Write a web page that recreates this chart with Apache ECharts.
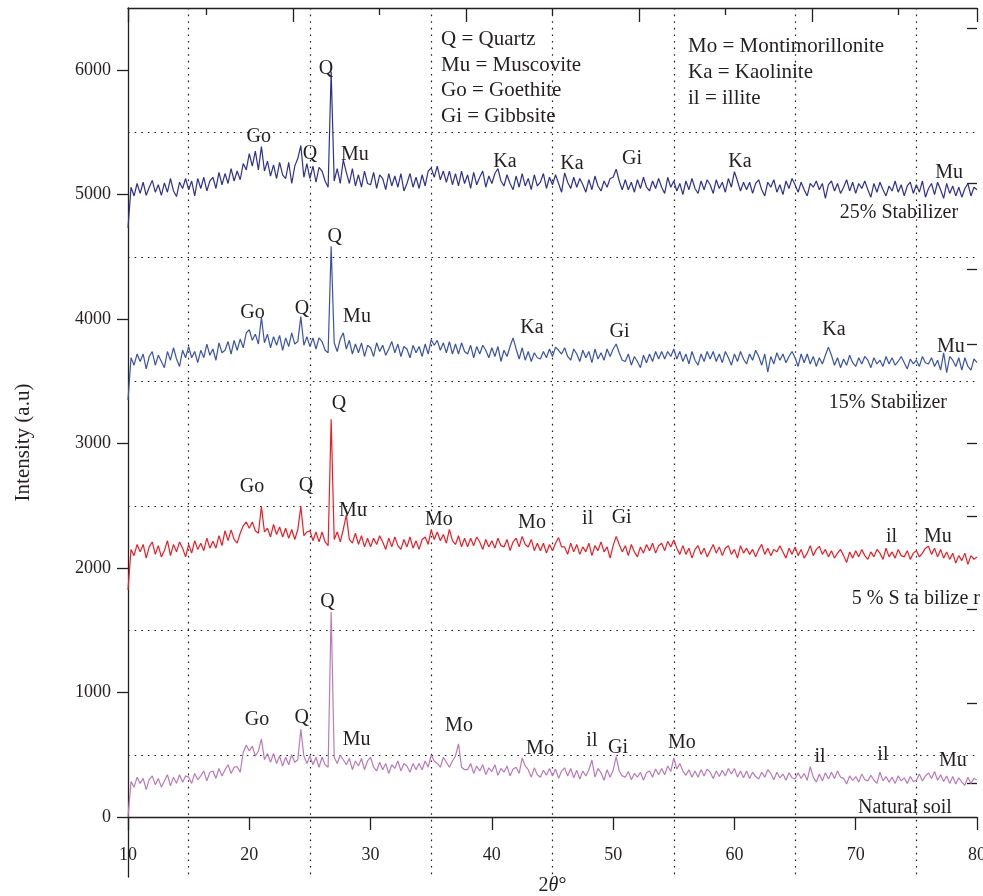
<!DOCTYPE html>
<html>
<head>
<meta charset="utf-8">
<script src="https://cdn.jsdelivr.net/npm/echarts@6/dist/echarts.min.js"></script>
<style>
  html, body { margin: 0; padding: 0; background: #ffffff; }
  #chart { width: 983px; height: 896px; }
</style>
</head>
<body>
<div id="chart"></div>
<script>
// 2θ scan starts at 10° with a 0.25° step
const startAngle = 10;
const angleStep = 0.25;
const xTicks = [10, 20, 30, 40, 50, 60, 70, 80];

const stabilizer25 = [
  4735, 5060, 4990, 5090, 5010, 5100, 4995, 5060, 5115, 5020, 5080, 4995,
  5095, 5020, 5130, 5030, 4985, 5100, 5050, 5130, 5040, 5110, 4990, 5130,
  5050, 5140, 5030, 5110, 5140, 5050, 5180, 5080, 5170, 5090, 5210, 5110,
  5190, 5120, 5250, 5200, 5330, 5230, 5350, 5200, 5386, 5190, 5270, 5150,
  5240, 5130, 5260, 5160, 5130, 5260, 5090, 5230, 5290, 5394, 5140, 5250,
  5130, 5230, 5100, 5220, 5190, 5110, 5060, 5990, 5110, 5210, 5090, 5280,
  5180, 5090, 5210, 5070, 5160, 5060, 5190, 5090, 5080, 5180, 5050, 5160,
  5130, 5040, 5170, 5070, 5150, 5060, 5170, 5030, 5090, 5170, 5060, 5140,
  5050, 5160, 5070, 5190, 5215, 5140, 5230, 5120, 5190, 5100, 5190, 5080,
  5170, 5070, 5190, 5090, 5160, 5050, 5180, 5080, 5140, 5190, 5060, 5150,
  5090, 5170, 5210, 5110, 5070, 5160, 5090, 5040, 5150, 5060, 5170, 5070,
  5130, 5040, 5160, 5070, 5100, 5170, 5050, 5140, 5080, 5160, 5090, 5020,
  5175, 5100, 5050, 5140, 5060, 5130, 5080, 5020, 5120, 5040, 5150, 5070,
  5030, 5110, 5060, 5130, 5140, 5205, 5110, 5040, 5120, 5040, 5100, 5020,
  5120, 5050, 5140, 5060, 5030, 5110, 5050, 5130, 5060, 5010, 5140, 5060,
  5110, 5030, 5090, 5000, 5110, 5040, 5130, 5050, 5010, 5110, 5040, 5120,
  5080, 5010, 5120, 5050, 5100, 5020, 5130, 5060, 5185, 5110, 5030, 5100,
  5040, 5100, 5010, 5090, 5120, 5040, 4990, 5100, 5060, 5120, 5020, 5080,
  5000, 5110, 5050, 5130, 5080, 5020, 5100, 5040, 4990, 5090, 5060, 5110,
  5040, 5090, 4970, 5080, 5110, 5030, 5090, 5010, 5060, 5120, 5030, 5100,
  5010, 5090, 5050, 5110, 5040, 4980, 5090, 5020, 5100, 5040, 4990, 5070,
  5030, 5110, 5020, 5080, 4990, 5070, 5100, 5010, 5080, 5020, 5110, 4980,
  5050, 5090, 5000, 5100, 5040, 4970, 5090, 5010, 5070, 4990, 5060, 4980,
  5050, 5090, 4990, 5060, 5040
];

const stabilizer15 = [
  3350, 3690, 3630, 3720, 3660, 3720, 3600, 3700, 3740, 3630, 3710, 3660,
  3610, 3740, 3670, 3770, 3680, 3620, 3750, 3690, 3780, 3690, 3740, 3650,
  3750, 3690, 3800, 3710, 3760, 3670, 3810, 3730, 3750, 3820, 3720, 3830,
  3750, 3840, 3770, 3890, 3915, 3830, 3880, 3800, 4014, 3810, 3880, 3770,
  3860, 3790, 3870, 3750, 3850, 3780, 3890, 3800, 3820, 4020, 3790, 3860,
  3780, 3850, 3760, 3850, 3820, 3750, 3730, 4585, 3810, 3740, 3840, 3890,
  3760, 3830, 3720, 3800, 3730, 3810, 3700, 3790, 3770, 3700, 3810, 3740,
  3790, 3710, 3760, 3820, 3730, 3800, 3700, 3780, 3760, 3690, 3790, 3730,
  3780, 3700, 3800, 3720, 3835, 3790, 3830, 3750, 3810, 3730, 3820, 3720,
  3800, 3720, 3810, 3740, 3720, 3790, 3690, 3780, 3720, 3790, 3750, 3690,
  3770, 3700, 3780, 3660, 3750, 3700, 3780, 3850, 3760, 3680, 3770, 3670,
  3740, 3660, 3730, 3690, 3680, 3740, 3690, 3760, 3700, 3775, 3750, 3720,
  3770, 3700, 3670, 3760, 3720, 3660, 3750, 3690, 3740, 3650, 3760, 3680,
  3730, 3670, 3760, 3700, 3760, 3800, 3730, 3670, 3660, 3720, 3630, 3700,
  3660, 3610, 3710, 3650, 3720, 3660, 3740, 3680, 3740, 3680, 3740, 3700,
  3760, 3680, 3740, 3660, 3720, 3640, 3740, 3670, 3630, 3720, 3660, 3740,
  3680, 3740, 3660, 3720, 3650, 3740, 3690, 3630, 3720, 3660, 3740, 3680,
  3640, 3720, 3670, 3750, 3700, 3630, 3720, 3575, 3700, 3640, 3730, 3670,
  3720, 3650, 3700, 3740, 3690, 3620, 3720, 3650, 3720, 3640, 3700, 3620,
  3690, 3640, 3710, 3775, 3710, 3630, 3690, 3610, 3680, 3630, 3710, 3650,
  3620, 3690, 3640, 3700, 3670, 3610, 3690, 3640, 3670, 3620, 3700, 3640,
  3690, 3630, 3660, 3700, 3650, 3600, 3680, 3640, 3670, 3620, 3700, 3650,
  3640, 3690, 3620, 3670, 3590, 3730, 3570, 3700, 3670, 3620, 3690, 3590,
  3690, 3620, 3590, 3680, 3650
];

const stabilizer5 = [
  1825, 2150, 2100, 2190, 2130, 2190, 2080, 2170, 2210, 2110, 2180, 2090,
  2140, 2220, 2100, 2190, 2130, 2210, 2160, 2090, 2190, 2120, 2220, 2150,
  2200, 2140, 2240, 2160, 2215, 2160, 2260, 2180, 2300, 2220, 2307, 2230,
  2200, 2280, 2340, 2371, 2320, 2370, 2300, 2280, 2494, 2290, 2320, 2250,
  2350, 2270, 2330, 2250, 2320, 2240, 2310, 2230, 2310, 2494, 2260, 2290,
  2300, 2220, 2290, 2210, 2290, 2210, 2180, 3195, 2230, 2290, 2210, 2310,
  2428, 2230, 2200, 2280, 2190, 2260, 2170, 2240, 2170, 2240, 2190, 2260,
  2210, 2150, 2240, 2170, 2250, 2180, 2150, 2230, 2170, 2250, 2160, 2220,
  2150, 2230, 2250, 2190, 2307, 2230, 2290, 2220, 2270, 2200, 2310, 2220,
  2190, 2260, 2170, 2240, 2170, 2240, 2180, 2250, 2210, 2150, 2230, 2170,
  2220, 2160, 2240, 2180, 2170, 2230, 2140, 2210, 2240, 2170, 2255, 2190,
  2170, 2230, 2140, 2200, 2140, 2200, 2120, 2190, 2140, 2200, 2245, 2170,
  2170, 2110, 2200, 2130, 2190, 2110, 2170, 2130, 2200, 2100, 2180, 2140,
  2210, 2130, 2170, 2080, 2180, 2255, 2190, 2130, 2180, 2100, 2190, 2130,
  2090, 2170, 2120, 2190, 2140, 2200, 2120, 2180, 2200, 2140, 2215, 2170,
  2225, 2160, 2110, 2180, 2110, 2160, 2080, 2150, 2180, 2110, 2160, 2090,
  2140, 2190, 2120, 2170, 2100, 2160, 2180, 2110, 2150, 2080, 2180, 2120,
  2160, 2110, 2150, 2090, 2150, 2190, 2110, 2160, 2100, 2150, 2130, 2180,
  2130, 2080, 2160, 2110, 2170, 2100, 2150, 2080, 2120, 2180, 2100, 2150,
  2175, 2110, 2150, 2090, 2140, 2080, 2120, 2150, 2100, 2045, 2130, 2080,
  2140, 2090, 2150, 2100, 2070, 2130, 2090, 2150, 2120, 2070, 2160, 2090,
  2130, 2080, 2150, 2100, 2090, 2140, 2070, 2120, 2140, 2090, 2120, 2160,
  2175, 2110, 2160, 2090, 2150, 2080, 2130, 2070, 2120, 2040, 2100, 2060,
  2120, 2030, 2100, 2070, 2090
];

const naturalSoil = [
  0, 284, 240, 320, 270, 310, 220, 300, 330, 260, 310, 240,
  290, 340, 250, 320, 270, 340, 280, 330, 320, 270, 350, 300,
  330, 370, 290, 360, 370, 310, 390, 330, 380, 420, 350, 400,
  404, 360, 520, 579, 530, 570, 490, 530, 627, 460, 510, 440,
  510, 430, 490, 410, 480, 420, 500, 440, 460, 704, 490, 430,
  490, 420, 480, 400, 480, 420, 400, 1650, 480, 430, 498, 460,
  420, 470, 380, 450, 410, 470, 380, 450, 480, 400, 370, 440,
  380, 430, 350, 420, 390, 450, 370, 430, 410, 360, 430, 380,
  430, 380, 450, 400, 498, 450, 430, 400, 480, 440, 400, 450,
  490, 587, 400, 380, 380, 430, 350, 410, 370, 420, 340, 395,
  365, 420, 335, 390, 360, 410, 330, 385, 400, 350, 474, 410,
  380, 320, 395, 340, 320, 375, 335, 390, 330, 385, 310, 370,
  395, 330, 390, 315, 375, 305, 370, 330, 380, 458, 320, 390,
  355, 295, 380, 320, 375, 485, 370, 330, 320, 365, 300, 350,
  320, 360, 295, 355, 370, 320, 385, 340, 390, 340, 410, 365,
  474, 385, 430, 370, 335, 380, 320, 370, 320, 380, 330, 385,
  360, 310, 370, 325, 375, 330, 390, 345, 390, 320, 370, 315,
  370, 310, 360, 325, 305, 360, 320, 380, 350, 300, 360, 315,
  345, 295, 355, 315, 305, 355, 310, 350, 295, 404, 320, 280,
  345, 290, 355, 305, 360, 310, 370, 320, 310, 265, 330, 295,
  325, 280, 345, 300, 290, 335, 295, 270, 360, 290, 325, 280,
  320, 270, 330, 290, 315, 270, 325, 285, 295, 345, 290, 330,
  355, 310, 365, 295, 340, 285, 330, 270, 325, 265, 315, 280,
  255, 320, 270, 310, 297
];

// Peak annotations: [text, 2θ, intensity]
const notes25 = [
  ['Go', 20.78, 5466], ['Q', 26.32, 6013], ['Q', 25.0, 5330], ['Mu', 28.71, 5322],
  ['Ka', 41.08, 5265], ['Ka', 46.6, 5249], ['Gi', 51.55, 5289], ['Ka', 60.45, 5265],
  ['Mu', 77.7, 5180], ['25% Stabilizer', 73.56, 4855]
];
const notes15 = [
  ['Go', 20.26, 4054], ['Q', 24.34, 4084], ['Q', 27.04, 4665], ['Mu', 28.88, 4019],
  ['Ka', 43.3, 3931], ['Gi', 50.53, 3901], ['Ka', 68.2, 3915], ['Mu', 77.85, 3781],
  ['15% Stabilizer', 72.65, 3328]
];
const notes5 = [
  ['Go', 20.22, 2653], ['Q', 24.67, 2661], ['Q', 27.4, 3320], ['Mu', 28.55, 2460],
  ['Mo', 35.64, 2387], ['Mo', 43.31, 2363], ['il', 47.9, 2395], ['Gi', 50.7, 2404],
  ['il', 72.96, 2251], ['Mu', 76.78, 2251], ['5 % S ta bilize r', 74.96, 1752]
];
const notesNatural = [
  ['Go', 20.63, 780], ['Q', 24.32, 796], ['Q', 26.45, 1728], ['Mu', 28.85, 619],
  ['Mo', 37.29, 732], ['Mo', 43.97, 547], ['il', 48.25, 611], ['Gi', 50.4, 559],
  ['Mo', 55.67, 595], ['il', 67.05, 482], ['il', 72.24, 498], ['Mu', 78.01, 450],
  ['Natural soil', 74.06, 72]
];

// stray tick marks on the right edge of the frame (intensity units)
const rightFrameTicks = [6334, 5096, 4405, 3800, 3006, 2420, 1672, 916, 273];

const legendLeft = ['Q = Quartz', 'Mu = Muscovite', 'Go = Goethite', 'Gi = Gibbsite'];
const legendRight = ['Mo = Montimorillonite', 'Ka = Kaolinite', 'il = illite'];

const SERIF = '"Liberation Serif", "DejaVu Serif", serif';
const INK = '#231f20';

function toPairs(arr) {
  return arr.map((v, i) => [startAngle + i * angleStep, v]);
}
function toNotes(list) {
  return list.map(n => ({ name: n[0], value: [n[1], n[2]] }));
}

const traces = [
  { name: '25% Stabilizer', data: stabilizer25, color: '#2e3192', notes: notes25 },
  { name: '15% Stabilizer', data: stabilizer15, color: '#3a53a6', notes: notes15 },
  { name: '5% Stabilizer', data: stabilizer5, color: '#ee1c25', notes: notes5 },
  { name: 'Natural soil', data: naturalSoil, color: '#bb7ab9', notes: notesNatural }
];

// data grid = xAxis 2 / yAxis 2
const series = [];
traces.forEach(t => {
  series.push({
    type: 'line', name: t.name, xAxisIndex: 2, yAxisIndex: 2,
    data: toPairs(t.data), showSymbol: false, symbol: 'none',
    lineStyle: { color: t.color, width: 1.2 }, z: 3, animation: false
  });
});
traces.forEach(t => {
  series.push({
    type: 'scatter', name: t.name + ' labels', xAxisIndex: 2, yAxisIndex: 2,
    data: toNotes(t.notes), symbolSize: 0,
    itemStyle: { color: INK, opacity: 1 },
    label: {
      show: true, position: 'inside', formatter: '{b}',
      fontFamily: SERIF, fontSize: 20, color: INK, opacity: 1,
      textBorderWidth: 0
    },
    emphasis: { disabled: true },
    silent: true, z: 5, animation: false
  });
});

const graphics = [];
legendLeft.forEach((s, i) => {
  graphics.push({ type: 'text', left: 441, top: 29 + i * 25.5,
    style: { text: s, font: '21px ' + SERIF, fill: INK } });
});
legendRight.forEach((s, i) => {
  graphics.push({ type: 'text', left: 688, top: 36 + i * 26,
    style: { text: s, font: '21px ' + SERIF, fill: INK } });
});

const chart = echarts.init(document.getElementById('chart'), null, { renderer: 'canvas' });
chart.setOption({
  backgroundColor: '#ffffff',
  animation: false,
  grid: [
    { left: 128, right: 6, top: 8, bottom: 19, containLabel: false, outerBoundsMode: 'none' },
    { left: 128, right: 6, top: 8, bottom: 79, containLabel: false, outerBoundsMode: 'none' }
  ],
  xAxis: [
    {
      gridIndex: 0, type: 'value', min: 5, max: 75, splitNumber: 7, position: 'top',
      axisLine: { show: false, onZero: false }, axisTick: { show: false }, axisLabel: { show: false },
      splitLine: { show: true, showMinLine: false, showMaxLine: false,
        lineStyle: { color: INK, width: 1.2, type: [1.6, 5] } }
    },
    {
      gridIndex: 0, type: 'value', min: -0.954, max: 3.954, splitNumber: 4, position: 'top',
      axisLine: { show: true, onZero: false, lineStyle: { color: INK, width: 1.3 } },
      axisTick: { show: true, inside: true, length: 14, lineStyle: { color: INK, width: 1.3 } },
      minorTick: { show: true, splitNumber: 2, length: 7, lineStyle: { color: INK, width: 1.3 } },
      axisLabel: { show: false }, splitLine: { show: false }
    },
    {
      gridIndex: 1, type: 'value', min: xTicks[0], max: xTicks[xTicks.length - 1], interval: 10,
      position: 'bottom',
      axisLine: { show: true, onZero: false, lineStyle: { color: INK, width: 1.3 } },
      axisTick: { show: true, length: 13, lineStyle: { color: INK, width: 1.3 } },
      axisLabel: { show: true, margin: 29, fontFamily: SERIF, fontSize: 18, color: INK },
      splitLine: { show: false },
      name: '2{it|θ}°', nameLocation: 'middle', nameGap: 59,
      nameTextStyle: { fontFamily: SERIF, fontSize: 20, color: INK,
        rich: { it: { fontFamily: SERIF, fontSize: 20, fontStyle: 'italic', color: INK } } }
    }
  ],
  yAxis: [
    {
      gridIndex: 0, type: 'value', min: -480, max: 6500, splitNumber: 7, position: 'left',
      axisLine: { show: true, onZero: false, lineStyle: { color: INK, width: 1.3 } },
      axisTick: { show: true, length: 11, lineStyle: { color: INK, width: 1.3 } },
      axisLabel: { margin: 17, fontFamily: SERIF, fontSize: 18, color: INK,
        showMinLabel: false, showMaxLabel: false, formatter: v => String(v) },
      splitLine: { show: false },
      name: 'Intensity (a.u)', nameLocation: 'middle', nameGap: 94, nameRotate: 90,
      nameTextStyle: { fontFamily: SERIF, fontSize: 21, color: INK }
    },
    {
      gridIndex: 0, type: 'value', min: -980, max: 6000, splitNumber: 7, position: 'right',
      axisLine: { show: false, onZero: false }, axisTick: { show: false }, axisLabel: { show: false },
      splitLine: { show: true, showMinLine: false, showMaxLine: false,
        lineStyle: { color: INK, width: 1.2, type: [1.6, 5] } }
    },
    {
      gridIndex: 1, type: 'value', min: 0, max: 6500, show: false,
      axisLine: { show: false, onZero: false }, splitLine: { show: false }
    },
    {
      gridIndex: 0, type: 'value', min: -480, max: 6500, position: 'right',
      axisLine: { show: false, onZero: false },
      axisTick: { show: true, inside: true, length: 10, customValues: rightFrameTicks,
        lineStyle: { color: INK, width: 1.3 } },
      axisLabel: { show: false }, splitLine: { show: false }
    }
  ],
  graphic: graphics,
  series: series
});
</script>
</body>
</html>
